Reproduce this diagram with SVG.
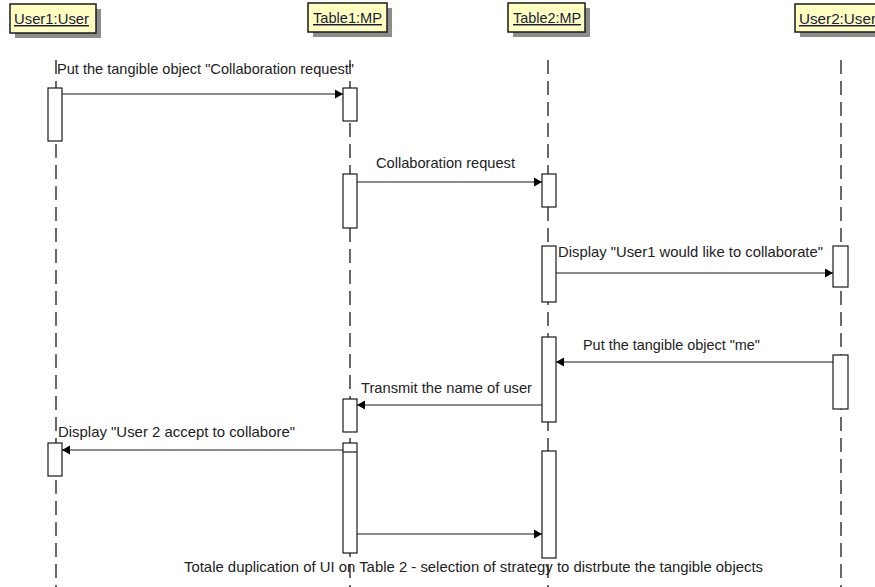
<svg xmlns="http://www.w3.org/2000/svg" width="875" height="587" viewBox="0 0 875 587">
<style>
.hdr{fill:#ffffc0;stroke:#1a1a1a;stroke-width:1.5}
.shd{fill:#8c8c8c}
.ht{font-family:"Liberation Sans",Arial,sans-serif;font-size:14.5px;fill:#1a1a40;text-decoration:underline}
.life{stroke:#1a1a1a;stroke-width:1.3;stroke-dasharray:14 7;fill:none}
.act{fill:#ffffff;stroke:#1a1a1a;stroke-width:1.2}
.msg{stroke:#1a1a1a;stroke-width:1.2;fill:none}
.lbl{font-family:"Liberation Sans",Arial,sans-serif;font-size:14.5px;fill:#222}
</style>
<defs>
<marker id="ah" markerWidth="10" markerHeight="10" refX="8" refY="5" orient="auto" markerUnits="userSpaceOnUse">
<path d="M0,0.5 L8,5 L0,9.5 Z" fill="#000"/>
</marker>
</defs>
<rect width="875" height="587" fill="#ffffff"/>
<g id="lifelines">
<line class="life" x1="56" y1="60" x2="56" y2="587"/>
<line class="life" x1="350" y1="60" x2="350" y2="587"/>
<line class="life" x1="548" y1="60" x2="548" y2="587"/>
<line class="life" x1="841" y1="60" x2="841" y2="587"/>
</g>
<g id="user1">
<rect class="shd" x="15" y="9" width="86" height="29"/>
<rect class="hdr" x="10" y="4" width="86" height="29"/>
<text class="ht" x="14" y="24" textLength="75" lengthAdjust="spacingAndGlyphs">User1:User</text>
<rect class="act" x="48" y="88" width="14" height="53"/>
<rect class="act" x="48" y="443" width="14" height="33"/>
</g>
<g id="table1">
<rect class="shd" x="313" y="8" width="79" height="29"/>
<rect class="hdr" x="308" y="3" width="79" height="29"/>
<text class="ht" x="313" y="23" textLength="69" lengthAdjust="spacingAndGlyphs">Table1:MP</text>
<rect class="act" x="343" y="88" width="14" height="33"/>
<rect class="act" x="343" y="174" width="14" height="54"/>
<rect class="act" x="343" y="399" width="14" height="33"/>
<rect class="act" x="343" y="443" width="14" height="110"/>
<line x1="343" y1="452" x2="357" y2="452" stroke="#1a1a1a" stroke-width="1.2"/>
</g>
<g id="table2">
<rect class="shd" x="513" y="8" width="77" height="29"/>
<rect class="hdr" x="508" y="3" width="77" height="29"/>
<text class="ht" x="513" y="23" textLength="68" lengthAdjust="spacingAndGlyphs">Table2:MP</text>
<rect class="act" x="542" y="174" width="14" height="33"/>
<rect class="act" x="542" y="246" width="14" height="56"/>
<rect class="act" x="542" y="337" width="14" height="85"/>
<rect class="act" x="542" y="451" width="14" height="107"/>
</g>
<g id="user2">
<rect class="shd" x="800" y="9" width="85" height="28"/>
<rect class="hdr" x="795" y="4" width="90" height="28"/>
<text class="ht" x="799" y="24" textLength="77" lengthAdjust="spacingAndGlyphs">User2:User</text>
<rect class="act" x="833" y="246" width="15" height="41"/>
<rect class="act" x="833" y="355" width="15" height="54"/>
</g>
<g id="connectors">
<line class="msg" x1="62" y1="94" x2="343" y2="94" marker-end="url(#ah)"/>
<line class="msg" x1="357" y1="182" x2="542" y2="182" marker-end="url(#ah)"/>
<line class="msg" x1="556" y1="273" x2="833" y2="273" marker-end="url(#ah)"/>
<line class="msg" x1="833" y1="362" x2="556" y2="362" marker-end="url(#ah)"/>
<line class="msg" x1="542" y1="405" x2="357" y2="405" marker-end="url(#ah)"/>
<line class="msg" x1="343" y1="450" x2="62" y2="450" marker-end="url(#ah)"/>
<line class="msg" x1="357" y1="534" x2="542" y2="534" marker-end="url(#ah)"/>
</g>
<g id="labels">
<text class="lbl" x="57" y="74" textLength="297" lengthAdjust="spacingAndGlyphs">Put the tangible object "Collaboration request"</text>
<text class="lbl" x="376" y="168" textLength="139" lengthAdjust="spacingAndGlyphs">Collaboration request</text>
<text class="lbl" x="558" y="257" textLength="265" lengthAdjust="spacingAndGlyphs">Display "User1 would like to collaborate"</text>
<text class="lbl" x="583" y="350" textLength="177" lengthAdjust="spacingAndGlyphs">Put the tangible object "me"</text>
<text class="lbl" x="361" y="393" textLength="171" lengthAdjust="spacingAndGlyphs">Transmit the name of user</text>
<text class="lbl" x="58" y="437" textLength="237" lengthAdjust="spacingAndGlyphs">Display "User 2 accept to collabore"</text>
<text class="lbl" x="184" y="572" textLength="579" lengthAdjust="spacingAndGlyphs">Totale duplication of UI on Table 2 - selection of strategy to distrbute the tangible objects</text>
</g>
</svg>
